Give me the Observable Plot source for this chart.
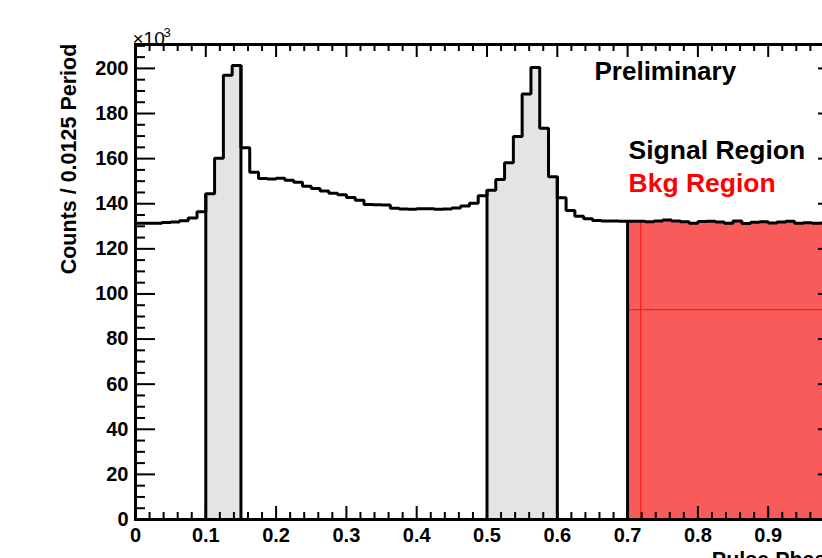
<!DOCTYPE html>
<html>
<head>
<meta charset="utf-8">
<script src="https://cdn.jsdelivr.net/npm/d3@7"></script>
<script src="https://cdn.jsdelivr.net/npm/@observablehq/plot@0.6"></script>
<style>
  html, body { margin: 0; padding: 0; background: white; }
  #chart { width: 822px; height: 558px; overflow: hidden; }
</style>
</head>
<body>
<div id="chart"></div>
<script>
// ---- data (counts in units of 10^3 per 0.0125 of pulse period) ----
const binWidth = 0.0125;
const counts = [
  131.4, 131.3, 131.4, 131.7, 131.9, 132.5, 133.7, 136.5, 144.4, 160.2,
  197.0, 201.3, 164.8, 154.0, 151.2, 151.0, 151.3, 150.4, 149.5, 147.8,
  146.8, 145.6, 144.6, 144.0, 142.8, 141.6, 139.7, 139.5, 139.4, 138.0,
  137.7, 137.6, 137.8, 137.8, 137.5, 137.7, 138.1, 139.0, 140.2, 143.5,
  146.0, 150.8, 158.2, 169.8, 188.6, 200.4, 173.5, 152.0, 142.7, 137.0,
  134.5, 133.3, 132.6, 132.4, 132.3, 132.2, 132.2, 132.2, 132.0, 132.3,
  132.8, 132.4, 132.0, 131.4, 132.1, 132.2, 131.9, 131.3, 132.3, 131.2,
  131.8, 132.0, 131.5, 131.9, 132.2, 131.4, 131.6, 131.3, 131.5, 131.6
];
const signalRegions = [[0.1, 0.15], [0.5, 0.6]];
const bkgRegions = [[0.7, 1.0]];
const bkgSeamX = [0.71875];
const bkgSeamY = [93];
const xTickValues = [0, 0.1, 0.2, 0.3, 0.4, 0.5, 0.6, 0.7, 0.8, 0.9, 1.0];
const xTickLabels = ["0", "0.1", "0.2", "0.3", "0.4", "0.5", "0.6", "0.7", "0.8", "0.9", "1"];
const yTickValues = [0, 20, 40, 60, 80, 100, 120, 140, 160, 180, 200];
const yTickLabels = ["0", "20", "40", "60", "80", "100", "120", "140", "160", "180", "200"];
const yMax = 210.6;

// ---- layout ----
const W = 822, H = 558;
const mL = 135, mR = -16, mT = 44, mB = 39;
const plotW = W - mL - mR, plotH = H - mT - mB;
const font = "'Liberation Sans', Arial, Helvetica, sans-serif";

const bins = counts.map((v, i) => ({x1: i * binWidth, x2: (i + 1) * binWidth, v, i}));
const eps = 1e-9;
const inRegion = (b, r) => b.x1 >= r[0] - eps && b.x2 <= r[1] + eps;

function regionPoints(regions) {
  const pts = [];
  regions.forEach((r, k) => {
    bins.filter(b => inRegion(b, r)).forEach(b => {
      pts.push({x: b.x1, y: b.v, z: k});
      pts.push({x: b.x2, y: b.v, z: k});
    });
  });
  return pts;
}
function regionEdges(regions) {
  const e = [];
  regions.forEach(r => {
    const inside = bins.filter(b => inRegion(b, r));
    if (!inside.length) return;
    e.push({x: r[0], v: inside[0].v});
    e.push({x: r[1], v: inside[inside.length - 1].v});
  });
  return e;
}
const sigPts = regionPoints(signalRegions);
const bkgPts = regionPoints(bkgRegions);
const edges = regionEdges(signalRegions.concat(bkgRegions));
const outline = bins.flatMap(b => [{x: b.x1, y: b.v}, {x: b.x2, y: b.v}]);
const valueAt = x => { const b = bins[Math.floor(x / binWidth)]; return b ? b.v : 0; };
const seamX = bkgSeamX.map(x => ({x, v: valueAt(x)}));
const seamY = bkgSeamY.map(y => ({y, x1: bkgRegions[0][0], x2: bkgRegions[0][1]}));

const xMinor = d3.range(0, 1.0001, 0.02).filter(d => Math.abs(d * 10 - Math.round(d * 10)) > 1e-6);
const yMinor = d3.range(0, yMax, 5).filter(d => d % 20 !== 0);

const chart = Plot.plot({
  width: W, height: H,
  marginLeft: mL, marginRight: mR, marginTop: mT, marginBottom: mB,
  style: {fontFamily: font, background: "white", color: "black"},
  x: {domain: [0, 1], axis: null},
  y: {domain: [0, yMax], axis: null},
  marks: [
    Plot.areaY(sigPts, {x: "x", y1: 0, y2: "y", z: "z", fill: "#e4e4e4", curve: "linear"}),
    Plot.areaY(bkgPts, {x: "x", y1: 0, y2: "y", z: "z", fill: "#f95a5a", curve: "linear"}),
    Plot.ruleX(seamX, {x: "x", y1: 0, y2: "v", stroke: "#ff1010", strokeWidth: 1}),
    Plot.ruleY(seamY, {y: "y", x1: "x1", x2: "x2", stroke: "#ff1010", strokeWidth: 1}),
    Plot.ruleX(edges, {x: "x", y1: 0, y2: "v", stroke: "black", strokeWidth: 3}),
    Plot.line(outline, {x: "x", y: "y", stroke: "black", strokeWidth: 3, strokeLinejoin: "miter"}),
    // ticks (ROOT style, inward on all four sides)
    Plot.tickX(xTickValues, {x: d => d, insetTop: plotH - 13, stroke: "black", strokeWidth: 2}),
    Plot.tickX(xMinor, {x: d => d, insetTop: plotH - 7, stroke: "black", strokeWidth: 2}),
    Plot.tickX(xTickValues, {x: d => d, insetBottom: plotH - 13, stroke: "black", strokeWidth: 2}),
    Plot.tickX(xMinor, {x: d => d, insetBottom: plotH - 7, stroke: "black", strokeWidth: 2}),
    Plot.tickY(yTickValues, {y: d => d, insetRight: plotW - 20, stroke: "black", strokeWidth: 2}),
    Plot.tickY(yMinor, {y: d => d, insetRight: plotW - 10, stroke: "black", strokeWidth: 2}),
    Plot.tickY(yTickValues, {y: d => d, insetLeft: plotW - 20, stroke: "black", strokeWidth: 2}),
    Plot.tickY(yMinor, {y: d => d, insetLeft: plotW - 10, stroke: "black", strokeWidth: 2}),
    Plot.frame({stroke: "black", strokeWidth: 3}),
    // tick labels
    Plot.axisX(xTickValues, {anchor: "bottom", tickSize: 0, tickPadding: 8,
      tickFormat: d => xTickLabels[Math.round(d * 10)], fontSize: 20, fontWeight: "bold", fill: "black"}),
    Plot.axisY(yTickValues, {anchor: "left", tickSize: 0, tickPadding: 7,
      tickFormat: d => yTickLabels[Math.round(d / 20)], fontSize: 20, fontWeight: "bold", fill: "black"}),
    // titles and annotations
    Plot.text(["Counts / 0.0125 Period"], {frameAnchor: "left", rotate: -90, dx: -66.5, dy: -123,
      fontSize: 21.5, fontWeight: "bold", textAnchor: "middle", lineAnchor: "middle", fill: "black"}),
    Plot.text(["Pulse Phase"], {frameAnchor: "bottom-right", dy: 47, textAnchor: "end", lineAnchor: "bottom",
      fontSize: 21.5, fontWeight: "bold", fill: "black"}),
    Plot.text(["\u00d710"], {frameAnchor: "top-left", dx: -3, dy: 0, textAnchor: "start", lineAnchor: "bottom",
      fontSize: 19, fill: "black"}),
    Plot.text(["3"], {frameAnchor: "top-left", dx: 28, dy: -8, textAnchor: "start", lineAnchor: "bottom",
      fontSize: 13, fill: "black"}),
    Plot.text(["Preliminary"], {frameAnchor: "top-left", dx: 459, dy: 35, textAnchor: "start", lineAnchor: "bottom",
      fontSize: 26, fontWeight: "bold", fill: "black"}),
    Plot.text(["Signal Region"], {frameAnchor: "top-left", dx: 493, dy: 114, textAnchor: "start", lineAnchor: "bottom",
      fontSize: 26.5, fontWeight: "bold", fill: "black"}),
    Plot.text(["Bkg Region"], {frameAnchor: "top-left", dx: 493, dy: 147.5, textAnchor: "start", lineAnchor: "bottom",
      fontSize: 26.5, fontWeight: "bold", fill: "#ff0000"})
  ]
});
document.getElementById("chart").appendChild(chart);
</script>
</body>
</html>
